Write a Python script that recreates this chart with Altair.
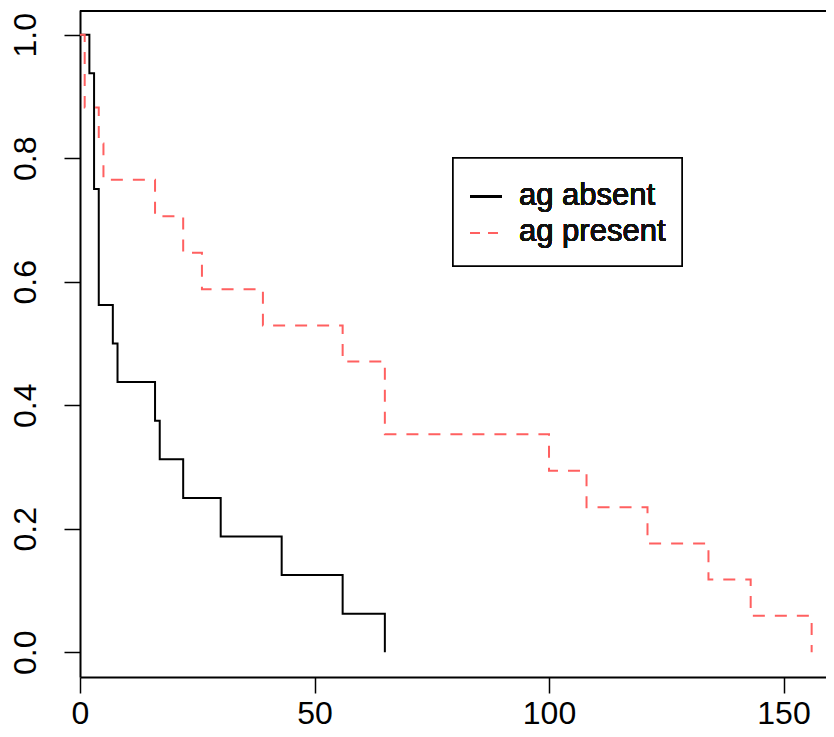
import altair as alt
import pandas as pd

# Kaplan-Meier step curves (time, survival)
absent_time = [0, 2, 3, 4, 7, 8, 16, 17, 22, 30, 43, 56, 65]
absent_surv = [1.0, 0.9375, 0.75, 0.5625, 0.5, 0.4375, 0.375, 0.3125, 0.25, 0.1875, 0.125, 0.0625, 0.0]

present_time = [0, 1, 4, 5, 16, 22, 26, 39, 56, 65, 100, 108, 121, 134, 143, 156]
present_surv = [1.0, 0.882, 0.824, 0.765, 0.706, 0.647, 0.588, 0.529, 0.471, 0.353, 0.294, 0.235, 0.176, 0.118, 0.059, 0.0]

legend_labels = ["ag absent", "ag present"]
x_ticks = [0, 50, 100, 150]
y_ticks = [0.0, 0.2, 0.4, 0.6, 0.8, 1.0]

FONT = "Liberation Sans"
W, H = 746, 667
RED = "#ff6060"

df_a = pd.DataFrame({"time": absent_time, "surv": absent_surv})
df_p = pd.DataFrame({"time": present_time, "surv": present_surv})

xs = alt.Scale(domain=[0, 159.06], nice=False, zero=False)
ys = alt.Scale(domain=[-0.04, 1.04], nice=False, zero=False)

xax = alt.Axis(values=x_ticks, title=None, grid=False, tickSize=16, tickColor="black",
               tickWidth=1.5, domainColor="black", domainWidth=2, labelFontSize=32,
               labelFont=FONT, labelColor="black", labelBaseline="alphabetic",
               labelPadding=30, labelFlush=False)
yax = alt.Axis(values=y_ticks, title=None, grid=False, tickSize=16, tickColor="black",
               tickWidth=1.5, domainColor="black", domainWidth=2, labelFontSize=32,
               labelFont=FONT, labelColor="black", labelAngle=-90, labelAlign="center",
               labelBaseline="alphabetic", labelPadding=29, format=".1f", labelFlush=False)

line_a = alt.Chart(df_a).mark_line(interpolate="step-after", color="black", strokeWidth=2).encode(
    x=alt.X("time:Q", scale=xs, axis=xax),
    y=alt.Y("surv:Q", scale=ys, axis=yax),
)
line_p = alt.Chart(df_p).mark_line(interpolate="step-after", color=RED, strokeWidth=2,
                                   strokeDash=[12, 10]).encode(
    x=alt.X("time:Q", scale=xs),
    y=alt.Y("surv:Q", scale=ys),
)

top_border = alt.Chart(df_a).mark_rule(color="black", strokeWidth=2).encode(
    x=alt.value(0), x2=alt.value(W), y=alt.value(1)
)

# legend box
leg_box = alt.Chart(df_a).mark_rect(fill="white", stroke="black", strokeWidth=1.5).encode(
    x=alt.value(373), x2=alt.value(602), y=alt.value(148), y2=alt.value(256)
)
leg_l1 = alt.Chart(df_a).mark_rule(color="black", strokeWidth=2).encode(
    x=alt.value(390), x2=alt.value(422), y=alt.value(186.5)
)
leg_l2 = alt.Chart(df_a).mark_rule(color=RED, strokeWidth=2, strokeDash=[10, 8]).encode(
    x=alt.value(390), x2=alt.value(422), y=alt.value(223)
)
leg_t1 = alt.Chart(df_a).mark_text(text=legend_labels[0], align="left", baseline="alphabetic",
                                    font=FONT, fontSize=31, color="#111111").encode(
    x=alt.value(439), y=alt.value(195)
)
leg_t2 = alt.Chart(df_a).mark_text(text=legend_labels[1], align="left", baseline="alphabetic",
                                    font=FONT, fontSize=31, color="#111111").encode(
    x=alt.value(439), y=alt.value(230.5)
)

chart = alt.layer(line_a, line_p, top_border, leg_box, leg_l1, leg_l2, leg_t1, leg_t2).properties(
    width=W, height=H,
    autosize=alt.AutoSizeParams(type="none"),
    padding={"left": 72, "top": 2, "right": 0, "bottom": 57},
    background="white",
).configure_view(stroke=None)

chart.save("out.html", embed_options={"renderer": "svg", "actions": False})
